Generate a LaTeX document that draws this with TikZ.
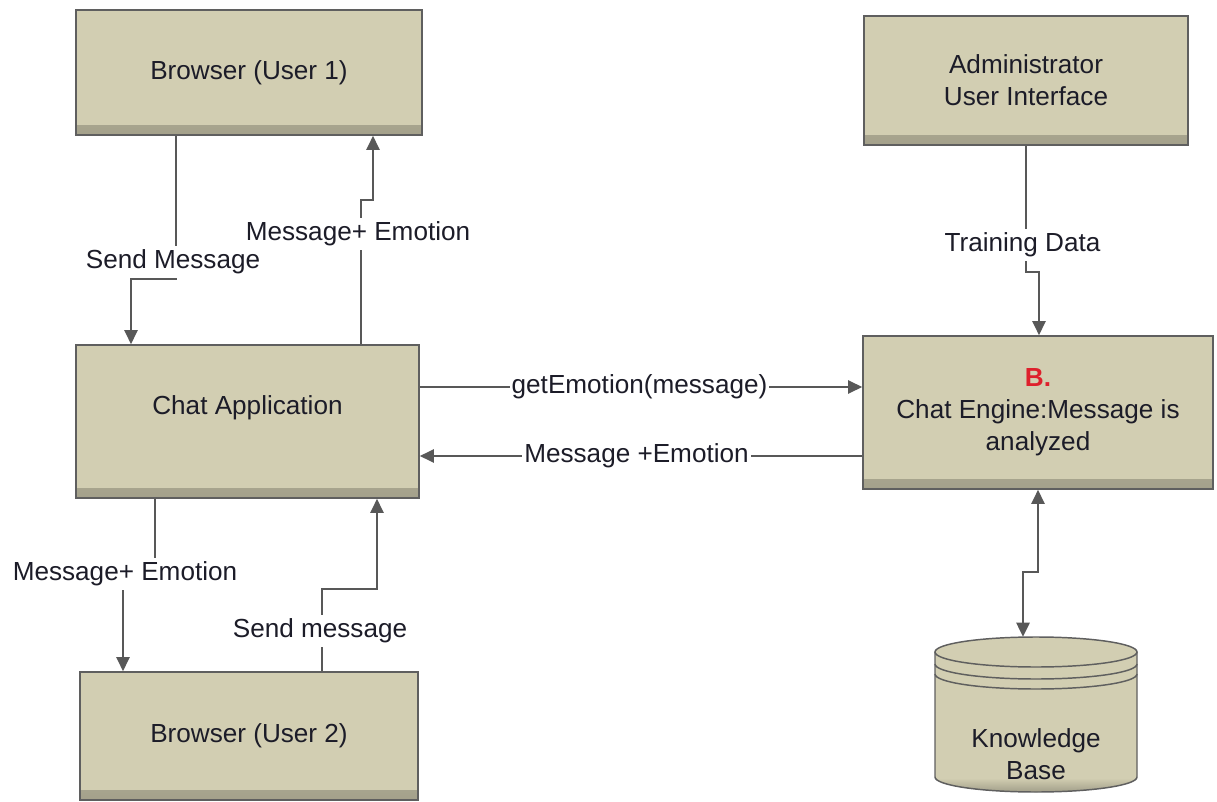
\documentclass[tikz,border=0pt]{standalone}
\usepackage{fontspec}
\setmainfont{Liberation Sans}
\usetikzlibrary{arrows.meta}
\definecolor{boxfill}{RGB}{210,206,178}
\definecolor{boxline}{RGB}{95,95,95}
\definecolor{wire}{RGB}{88,88,88}
\definecolor{ink}{RGB}{28,28,40}
\definecolor{tagred}{RGB}{222,32,44}

\begin{document}
\begin{tikzpicture}[x=0.75pt,y=-0.75pt,
  font=\fontsize{19.6}{24}\selectfont, text=ink,
  box/.style={draw=boxline, line width=1.3pt, fill=boxfill, inner sep=0pt, align=center,
    path picture={\shade[top color=boxfill,bottom color=boxfill!78!black]
      ([yshift=7pt]path picture bounding box.south west) rectangle (path picture bounding box.south east);}},
  conn/.style={draw=wire, line width=1.1pt, -{Triangle[length=10.5pt,width=10pt]}},
  both/.style={draw=wire, line width=1.1pt, {Triangle[length=10.5pt,width=10pt]}-{Triangle[length=10.5pt,width=10pt]}},
  lbl/.style={fill=white, inner xsep=1.5pt, inner ysep=3pt, text height=14pt, text depth=4pt}
]
\path[use as bounding box] (0,0) rectangle (1217,802);

% boxes
\node[box, minimum width=346*0.75pt, minimum height=125*0.75pt] (b1) at (249,72.5) {Browser (User 1)};
\node[box, minimum width=343*0.75pt, minimum height=153*0.75pt] (chat) at (247.5,421.5) {\raisebox{24pt}{Chat Application}};
\node[box, minimum width=338*0.75pt, minimum height=128*0.75pt] (b2) at (249,736) {Browser (User 2)};
\node[box, minimum width=324*0.75pt, minimum height=129*0.75pt] (admin) at (1026,80.5) {Administrator\\User Interface};
\node[box, minimum width=350*0.75pt, minimum height=153*0.75pt] (engine) at (1038,412.5)
  {\textcolor{tagred}{\bfseries B.}\\Chat Engine:Message is\\analyzed};

% knowledge base cylinder
\node[minimum width=202*0.75pt, minimum height=155*0.75pt, inner sep=0pt] (kb) at (1036,714.5) {};
\fill[boxfill] (935,652) -- (935,777) arc[start angle=180,end angle=360,x radius=75.75pt,y radius=11.25pt]
  -- (1137,652) arc[start angle=0,end angle=180,x radius=75.75pt,y radius=11.25pt] -- cycle;
\begin{scope}
  \clip (935,652) -- (935,777) arc[start angle=180,end angle=360,x radius=75.75pt,y radius=11.25pt]
    -- (1137,652) -- cycle;
  \shade[top color=boxfill,bottom color=boxfill!72!black] (930,778) rectangle (1140,795);
\end{scope}
\begin{scope}[draw=boxline, line width=1.1pt]
  \draw (935,652) -- (935,777) arc[start angle=180,end angle=360,x radius=75.75pt,y radius=11.25pt] -- (1137,652);
  \draw (1036,652) ellipse[x radius=75.75pt,y radius=11.25pt];
  \draw (935,664) arc[start angle=180,end angle=360,x radius=75.75pt,y radius=11.25pt];
  \draw (935,674) arc[start angle=180,end angle=360,x radius=75.75pt,y radius=11.25pt];
\end{scope}
\node[align=center] (kbtext) at (1036,754) {Knowledge\\Base};

% bend points of the connectors
\coordinate (sm1) at (176,279);  \coordinate (sm2) at (131,279);
\coordinate (mu1) at (361,200);  \coordinate (mu2) at (373,200);
\coordinate (ge)  at (640,387);  \coordinate (mr)  at (637,456);
\coordinate (md1) at (155,573);  \coordinate (md2) at (123,573);
\coordinate (su1) at (322,589);  \coordinate (su2) at (377,589);
\coordinate (td1) at (1026,272); \coordinate (td2) at (1039,272);
\coordinate (kb1) at (1038,572); \coordinate (kb2) at (1023,572);

% connectors
\draw[conn] (b1.south -| sm1) -- (sm1) -- (sm2) -- (chat.north -| sm2);
\draw[conn] (chat.north -| mu1) -- (mu1) -- (mu2) -- (b1.south -| mu2);
\draw[conn] (chat.east |- ge) -- (engine.west |- ge);
\draw[conn] (engine.west |- mr) -- (chat.east |- mr);
\draw[conn] (chat.south -| md1) -- (md1) -- (md2) -- (b2.north -| md2);
\draw[conn] (b2.north -| su1) -- (su1) -- (su2) -- (chat.south -| su2);
\draw[conn] (admin.south -| td1) -- (td1) -- (td2) -- (engine.north -| td2);
\draw[both] (engine.south -| kb1) -- (kb1) -- (kb2) -- (kb.north -| kb2);

% connector labels
\node[lbl] (lsm) at (173,262) {Send Message};
\node[lbl] (lmu) at (358,234) {Message+ Emotion};
\node[lbl] (lge) at (639.5,387) {getEmotion(message)};
\node[lbl] (lmr) at (636.5,456) {Message +Emotion};
\node[lbl] (lmd) at (125,574) {Message+ Emotion};
\node[lbl] (lsu) at (320,631) {Send message};
\node[lbl] (ltd) at (1022.5,245) {Training Data};
\end{tikzpicture}
\end{document}
